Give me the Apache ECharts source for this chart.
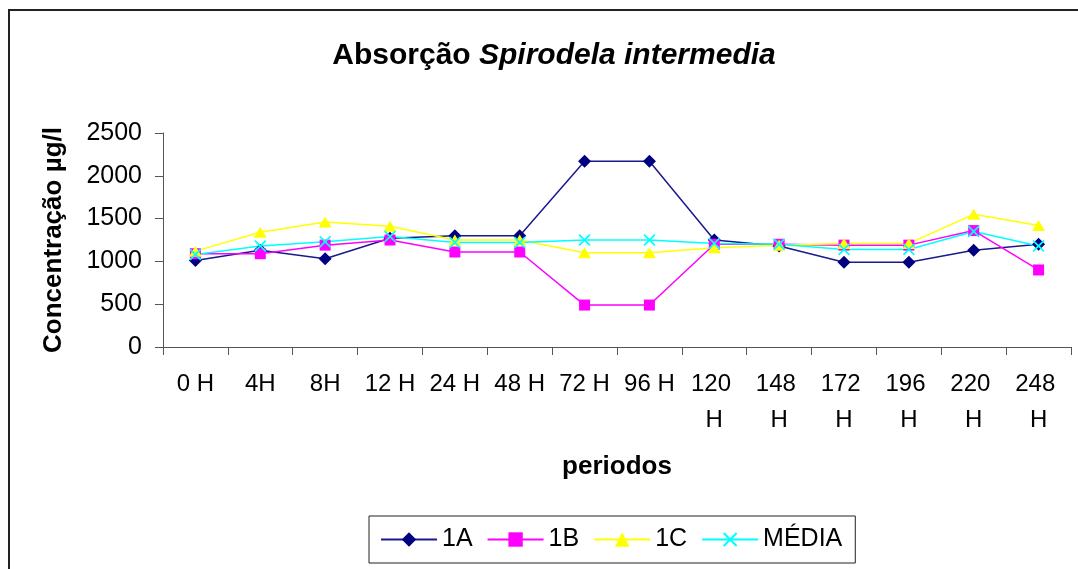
<!DOCTYPE html>
<html>
<head>
<meta charset="utf-8">
<script src="https://cdn.jsdelivr.net/npm/echarts@6/dist/echarts.min.js"></script>
<style>
  html, body { margin: 0; padding: 0; background: #ffffff; }
  #chart { width: 1078px; height: 569px; }
</style>
</head>
<body>
<div id="chart"></div>
<script>
// Sampling periods (hours)
const periods = ["0 H", "4H", "8H", "12 H", "24 H", "48 H", "72 H", "96 H", "120 H", "148 H", "172 H", "196 H", "220 H", "248 H"];
// Concentration (µg/l) per replicate
const rep1A = [1010, 1130, 1030, 1270, 1300, 1300, 2170, 2170, 1250, 1180, 990, 990, 1130, 1200];
const rep1B = [1090, 1090, 1190, 1250, 1110, 1110, 490, 490, 1200, 1200, 1190, 1190, 1360, 900];
const rep1C = [1120, 1340, 1460, 1410, 1250, 1250, 1100, 1100, 1160, 1190, 1210, 1210, 1550, 1420];
const media = [1080, 1180, 1230, 1290, 1220, 1220, 1250, 1250, 1210, 1200, 1140, 1140, 1350, 1180];
// Y axis ticks
const yTicks = [0, 500, 1000, 1500, 2000, 2500];

const FONT = "Arial, 'Liberation Sans', sans-serif";
const AXIS_COLOR = "#555555";

// thin "x" marker drawn as two crossing bars
const crossSymbol = "path://M0,1 L1,0 L10,9 L9,10 Z M9,0 L10,1 L1,10 L0,9 Z";

const chart = echarts.init(document.getElementById("chart"), null, { renderer: "canvas" });

function lineSeries(name, data, color, symbol, size, lineColor) {
  return {
    name: name,
    type: "line",
    data: data,
    symbol: symbol,
    symbolSize: size,
    showAllSymbol: true,
    lineStyle: { color: lineColor || color, width: 1.5 },
    itemStyle: { color: color },
    emphasis: { disabled: true },
    animation: false
  };
}

chart.setOption({
  backgroundColor: "#ffffff",
  animation: false,
  graphic: [{
    type: "rect",
    shape: { x: 9, y: 10, width: 1100, height: 620 },
    style: { fill: "none", stroke: "#222222", lineWidth: 2 },
    silent: true
  }],
  title: {
    text: "{a|Absorção }{b|Spirodela intermedia}",
    left: 549,
    top: 36,
    textAlign: "center",
    textStyle: {
      rich: {
        a: { fontFamily: FONT, fontWeight: "bold", fontSize: 30, color: "#000" },
        b: { fontFamily: FONT, fontWeight: "bold", fontStyle: "italic", fontSize: 30, color: "#000" }
      }
    }
  },
  legend: {
    left: 369,
    top: 516,
    orient: "horizontal",
    padding: [11, 13, 11, 11],
    itemGap: 14,
    itemWidth: 56,
    itemHeight: 18,
    borderColor: "#222222",
    borderWidth: 1,
    textStyle: { fontFamily: FONT, fontSize: 25, color: "#000" },
    data: ["1A", "1B", "1C", "MÉDIA"]
  },
  grid: { left: 163, top: 133, right: 7, bottom: 222, containLabel: false },
  xAxis: {
    type: "category",
    data: periods,
    boundaryGap: true,
    name: "periodos",
    nameLocation: "middle",
    nameGap: 107,
    nameTextStyle: { fontFamily: FONT, fontWeight: "bold", fontSize: 26, color: "#000" },
    axisLine: { lineStyle: { color: AXIS_COLOR, width: 1 } },
    axisTick: { show: true, length: 8, inside: false, lineStyle: { color: AXIS_COLOR } },
    axisLabel: {
      interval: 0,
      margin: 19,
      fontFamily: FONT,
      fontSize: 24,
      color: "#000",
      width: 62,
      overflow: "break",
      lineHeight: 36
    },
    splitLine: { show: false }
  },
  yAxis: {
    type: "value",
    min: yTicks[0],
    max: yTicks[yTicks.length - 1],
    interval: yTicks[1] - yTicks[0],
    name: "Concentração µg/l",
    nameLocation: "middle",
    nameRotate: 90,
    nameGap: 96,
    nameTextStyle: { fontFamily: FONT, fontWeight: "bold", fontSize: 26, color: "#000" },
    axisLine: { show: true, lineStyle: { color: AXIS_COLOR, width: 1 } },
    axisTick: { show: true, length: 8, inside: false, lineStyle: { color: AXIS_COLOR } },
    axisLabel: {
      margin: 21,
      fontFamily: FONT,
      fontSize: 25,
      color: "#000",
      formatter: function (v) { return String(v); }
    },
    splitLine: { show: false }
  },
  series: [
    lineSeries("1A", rep1A, "#000080", "diamond", [13, 13], "#1a1a8c"),
    lineSeries("1B", rep1B, "#ff00ff", "rect", [11, 11]),
    lineSeries("1C", rep1C, "#ffff00", "triangle", [13, 11]),
    lineSeries("MÉDIA", media, "#00ffff", crossSymbol, [12, 12])
  ]
});
</script>
</body>
</html>
